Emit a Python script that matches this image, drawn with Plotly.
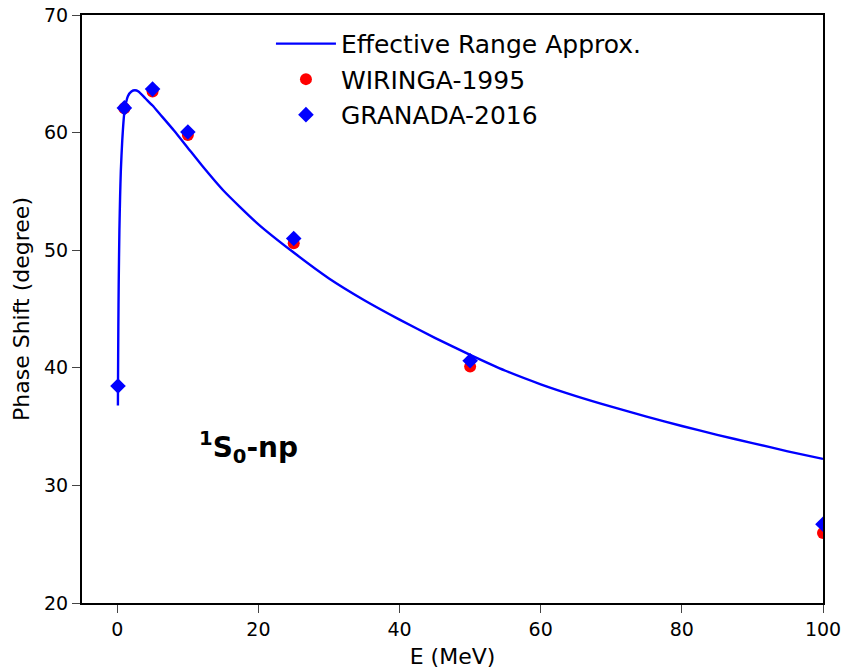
import plotly.graph_objects as go

# effective range approximation curve
era_energy = [0.09, 0.1, 0.15, 0.2, 0.3, 0.4, 0.5, 0.7, 1.0, 1.5, 2.0, 2.5, 3.0, 4.0, 5.0,
              6.0, 8.0, 10, 12, 15, 20, 25, 30, 35, 40, 45, 50, 55, 60, 65, 70, 75, 80,
              85, 90, 95, 100]
era_phase = [36.8, 38.4, 43.5, 47.1, 51.7, 54.6, 56.7, 59.3, 61.7, 63.1, 63.5, 63.6, 63.5,
             62.9, 62.3, 61.6, 60.2, 58.7, 57.2, 55.1, 52.2, 49.8, 47.6, 45.75, 44.1, 42.55,
             41.1, 39.75, 38.6, 37.6, 36.7, 35.85, 35.05, 34.3, 33.6, 32.9, 32.25]

# phase shift analyses
wiringa_energy = [1, 5, 10, 25, 50, 100]
wiringa_phase = [62.07, 63.5, 59.8, 50.6, 40.1, 25.95]

granada_energy = [0.1, 1, 5, 10, 25, 50, 100]
granada_phase = [38.45, 62.1, 63.7, 60.05, 51.0, 40.6, 26.7]

font = "DejaVu Sans, Verdana, sans-serif"

fig = go.Figure()
fig.add_trace(go.Scatter(x=era_energy, y=era_phase, mode="lines",
                         line=dict(color="#0000ff", width=2.4, shape="spline", smoothing=0.6),
                         name="Effective Range Approx."))
fig.add_trace(go.Scatter(x=wiringa_energy, y=wiringa_phase, mode="markers",
                         marker=dict(color="#ff0000", symbol="circle", size=12),
                         name="WIRINGA-1995"))
fig.add_trace(go.Scatter(x=granada_energy, y=granada_phase, mode="markers",
                         marker=dict(color="#0000ff", symbol="diamond", size=12),
                         name="GRANADA-2016"))

fig.add_annotation(x=11.3, y=33.2, xref="x", yref="y", xanchor="left", yanchor="middle",
                   text="<b><sup>1</sup>S<sub>0</sub>-np</b>", showarrow=False,
                   font=dict(family=font, size=28, color="black"))

axis_style = dict(showline=True, linecolor="black", linewidth=2, mirror=True,
                  ticks="outside", ticklen=8, tickcolor="#444", tickwidth=1,
                  showgrid=False, zeroline=False, automargin=False,
                  tickfont=dict(family=font, size=19, color="black"))

fig.update_xaxes(range=[-5, 100], dtick=20, tick0=0,
                 title=dict(text="E (MeV)", font=dict(family=font, size=22, color="black"),
                            standoff=10),
                 **axis_style)
fig.update_yaxes(range=[20, 70], dtick=10, tick0=20,
                 title=dict(text="Phase Shift (degree)",
                            font=dict(family=font, size=22, color="black"), standoff=8),
                 **axis_style)

fig.update_layout(
    width=842, height=671,
    margin=dict(l=82, r=19, t=15, b=68),
    plot_bgcolor="white", paper_bgcolor="white",
    font=dict(family=font, color="black"),
    legend=dict(x=0.255, y=0.99, xanchor="left", yanchor="top",
                bgcolor="rgba(0,0,0,0)", font=dict(family=font, size=25, color="black"),
                itemwidth=60, tracegroupgap=0),
)

fig.write_html("out.html", config={"displayModeBar": False},
               post_script="document.body.style.margin='0';")
